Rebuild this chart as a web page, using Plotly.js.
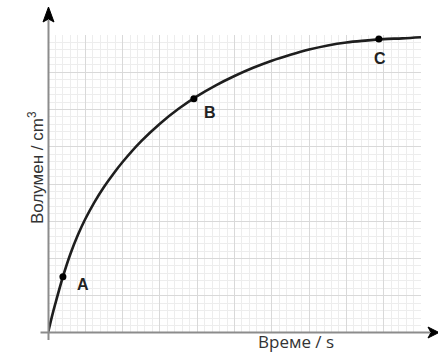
<!DOCTYPE html>
<html>
<head>
<meta charset="utf-8">
<script src="https://cdn.plot.ly/plotly-3.0.1.min.js"></script>
<style>
  html, body { margin: 0; padding: 0; background: #fff; }
  #chart { width: 438px; height: 364px; }
</style>
</head>
<body>
<div id="chart"></div>
<script>
// curve (grid units: 1 = one big square)
var curveX = [0, 0.1, 0.2, 0.4, 0.6, 0.8, 1.0, 1.25, 1.5, 1.75, 2.0, 2.5, 3.0, 3.5, 4.0, 4.5, 5.0, 5.5, 6.0, 6.5, 7.0, 7.5, 8.0, 8.5, 9.0, 9.5, 10.0];
var curveY = [0, 0.42, 0.80, 1.51, 2.12, 2.63, 3.06, 3.52, 3.92, 4.27, 4.59, 5.15, 5.62, 6.02, 6.36, 6.65, 6.90, 7.12, 7.31, 7.47, 7.61, 7.72, 7.80, 7.85, 7.89, 7.91, 7.94];

var pointNames = ["A", "B", "C"];
var pointX = [0.40, 3.91, 8.87];
var pointY = [1.51, 6.29, 7.89];
var labelShiftX = [20, 16, 1];
var labelShiftY = [-8, -14, -19];

// plot area in pixels
var L = 47.5, R = 421, T = 35, B = 333;
function px(x) { return (x - L) / (R - L); }
function py(y) { return (B - y) / (B - T); }

var axisGray = "#8c8c8c";

var shapes = [
  // y axis line + arrow
  { type: "line", xref: "paper", yref: "paper", x0: px(48), x1: px(48), y0: py(340), y1: py(20),
    line: { color: axisGray, width: 2 } },
  { type: "path", xref: "paper", yref: "paper",
    path: "M" + px(48) + "," + py(7) + " L" + px(42.5) + "," + py(22) + " L" + px(48) + "," + py(19) + " L" + px(53.5) + "," + py(22) + " Z",
    fillcolor: "#000", line: { color: "#000", width: 1 } },
  // x axis line + arrow
  { type: "line", xref: "paper", yref: "paper", x0: px(40), x1: px(430), y0: py(332.5), y1: py(332.5),
    line: { color: axisGray, width: 2 } },
  { type: "path", xref: "paper", yref: "paper",
    path: "M" + px(439) + "," + py(332.5) + " L" + px(428) + "," + py(327) + " L" + px(431) + "," + py(332.5) + " L" + px(428) + "," + py(338) + " Z",
    fillcolor: "#000", line: { color: "#000", width: 1 } }
];

var annotations = pointNames.map(function (n, i) {
  return {
    x: pointX[i], y: pointY[i], xref: "x", yref: "y", text: "<b>" + n + "</b>",
    showarrow: false, xshift: labelShiftX[i], yshift: labelShiftY[i],
    font: { family: "Arial, Liberation Sans, sans-serif", size: 16, color: "#222" }
  };
});
annotations.push({
  xref: "paper", yref: "paper", x: px(22), y: py(109), text: "Волумен / cm<sup>3</sup>",
  textangle: -90, showarrow: false,
  font: { family: "Arial, Liberation Sans, sans-serif", size: 17, color: "#333" }
});
annotations.push({
  xref: "paper", yref: "paper", x: px(336), y: py(355), text: "Време / s",
  showarrow: false,
  font: { family: "Open Sans, sans-serif", size: 17, color: "#333" }
});

Plotly.newPlot(
  "chart",
  [
    {
      x: curveX,
      y: curveY,
      mode: "lines",
      line: { color: "#1e1e1e", width: 2.6, shape: "spline", smoothing: 1 },
      hoverinfo: "skip",
      cliponaxis: false
    },
    {
      x: pointX,
      y: pointY,
      mode: "markers",
      marker: { color: "#000", size: 7 },
      cliponaxis: false
    }
  ],
  {
    width: 438,
    height: 364,
    margin: { l: L, r: 438 - R, t: T, b: 364 - B, pad: 0 },
    paper_bgcolor: "#fff",
    plot_bgcolor: "#fff",
    showlegend: false,
    xaxis: {
      range: [0, 10], dtick: 1, showticklabels: false, ticks: "",
      showgrid: true, gridcolor: "#d9d9d9", gridwidth: 1,
      minor: { dtick: 0.2, showgrid: true, gridcolor: "#ededed", gridwidth: 1 },
      zeroline: false, showline: false, fixedrange: true
    },
    yaxis: {
      range: [0, 8], dtick: 1, showticklabels: false, ticks: "",
      showgrid: true, gridcolor: "#d9d9d9", gridwidth: 1,
      minor: { dtick: 0.2, showgrid: true, gridcolor: "#ededed", gridwidth: 1 },
      zeroline: false, showline: false, fixedrange: true
    },
    shapes: shapes,
    annotations: annotations
  },
  { displayModeBar: false, staticPlot: true }
);
</script>
</body>
</html>
